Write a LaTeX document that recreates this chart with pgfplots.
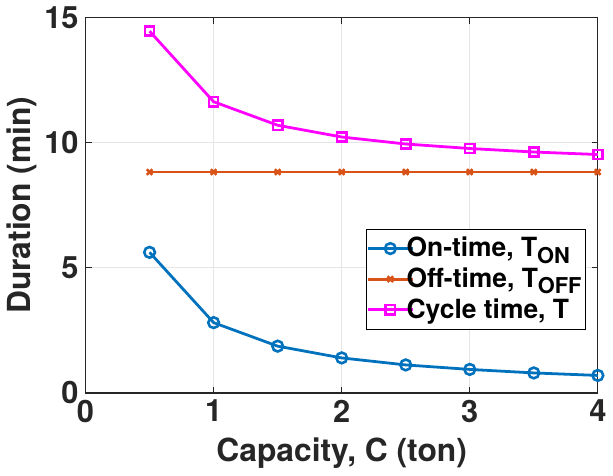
\documentclass[border=0pt]{standalone}
\usepackage{fontspec}
\setmainfont{TeX Gyre Heros}
\usepackage{pgfplots}
\pgfplotsset{compat=1.18}
\definecolor{mblue}{rgb}{0,0.447,0.741}
\definecolor{morange}{rgb}{0.85,0.325,0.098}
\definecolor{mmagenta}{rgb}{1,0,1}
\definecolor{axgray}{rgb}{0.15,0.15,0.15}
\newcommand{\sub}[1]{\raisebox{-0.45ex}{\fontsize{11}{12}\selectfont\bfseries #1}}
\begin{document}
\begin{tikzpicture}
\begin{axis}[scale only axis, width=258pt, height=189pt,
  xmin=0, xmax=4, ymin=0, ymax=15,
  xtick={0,1,2,3,4}, ytick={0,5,10,15},
  grid=major, major grid style={gray!20, line width=0.5pt},
  axis line style={axgray, line width=0.6pt},
  tick style={axgray, line width=0.6pt}, tick align=inside,
  major tick length=3pt,
  /pgf/number format/assume math mode=true,
  tick label style={font=\fontsize{15.5}{17}\selectfont\bfseries, text=axgray},
  label style={font=\fontsize{16}{18}\selectfont\bfseries, text=axgray},
  xlabel={Capacity, C (ton)}, ylabel={Duration (min)},
  ylabel style={yshift=-3pt}, xlabel style={yshift=-1pt},
  legend style={font=\fontsize{13.3}{15}\selectfont\bfseries,
    at={(0.977,0.169)}, anchor=south east, draw=black, line width=0.5pt,
    row sep=0pt, column sep=-6pt, inner xsep=0pt, inner ysep=2pt,
    nodes={inner xsep=2pt}},
  legend cell align=left,
  legend image code/.code={\draw[mark repeat=2, mark phase=2]
    plot coordinates {(0pt,0pt) (11.5pt,0pt) (23pt,0pt)};},
  every axis plot/.append style={line width=1.4pt},
]
\addplot[mblue, mark=o, mark size=2.7pt, mark options={line width=1.3pt}] coordinates {
  (0.5,5.62) (1,2.81) (1.5,1.87) (2,1.40) (2.5,1.12) (3,0.94) (3.5,0.80) (4,0.70)};
\addlegendentry{On-time, T\sub{ON}}
\addplot[morange, mark=x, mark size=2pt, mark options={line width=1.3pt}] coordinates {
  (0.5,8.83) (1,8.83) (1.5,8.83) (2,8.83) (2.5,8.83) (3,8.83) (3.5,8.83) (4,8.83)};
\addlegendentry{Off-time, T\sub{OFF}}
\addplot[mmagenta, mark=square, mark size=2.3pt, mark options={line width=1.3pt}] coordinates {
  (0.5,14.46) (1,11.64) (1.5,10.70) (2,10.23) (2.5,9.95) (3,9.77) (3.5,9.63) (4,9.53)};
\addlegendentry{Cycle time, T}
\end{axis}
\end{tikzpicture}
\end{document}
